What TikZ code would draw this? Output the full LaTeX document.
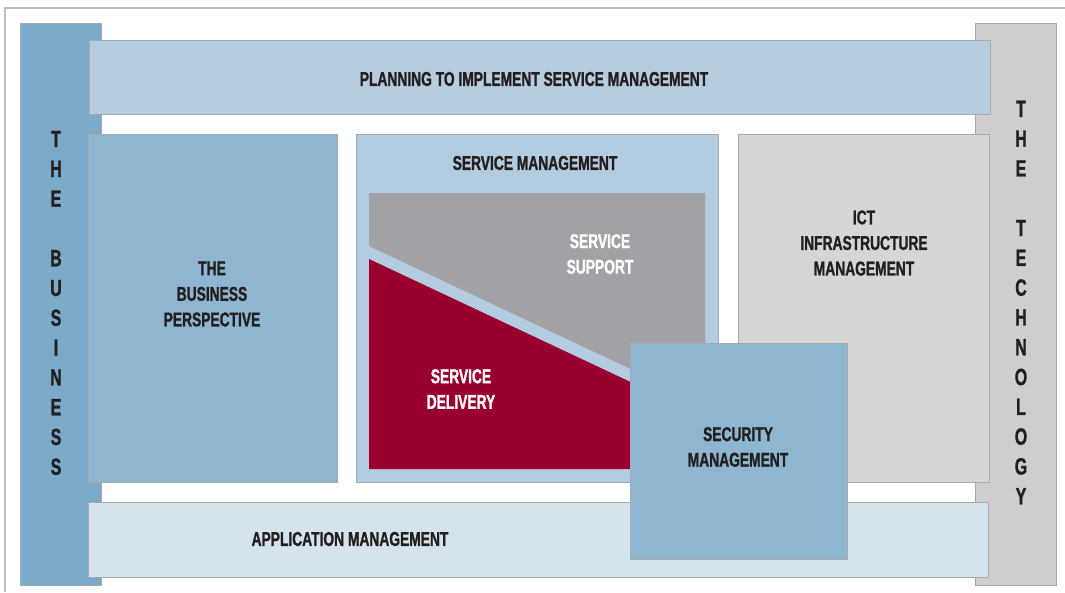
\documentclass[tikz,border=0pt]{standalone}
\usepackage{fontspec}
\newfontfamily\cfont{Liberation Sans Bold}[FakeStretch=0.69,FakeBold=1.2]
\newfontfamily\vfont{Liberation Sans Bold}[FakeStretch=0.68,FakeBold=1.2]
\definecolor{cBus}{HTML}{7BABC8}
\definecolor{cTop}{HTML}{B6CDE0}
\definecolor{cTech}{HTML}{CECED0}
\definecolor{cPersp}{HTML}{8EB6D1}
\definecolor{cSM}{HTML}{B4CCDF}
\definecolor{cGray}{HTML}{A2A1A6}
\definecolor{cRed}{HTML}{990030}
\definecolor{cICT}{HTML}{D6D6D8}
\definecolor{cApp}{HTML}{D5E3EC}
\definecolor{cEdge}{HTML}{A7A9AC}
\definecolor{cText}{HTML}{231F20}
\definecolor{cFrame}{HTML}{BEBEBE}
\begin{document}
\begin{tikzpicture}[x=1pt,y=-1pt,
  panel/.style={draw=cEdge,line width=0.8pt},
  lbl/.style={text=cText,font=\cfont\fontsize{20}{25.6}\selectfont,align=center,inner sep=0pt},
  wlbl/.style={lbl,text=white},
  vlbl/.style={text=cText,font=\vfont\fontsize{23.5}{29.8}\selectfont,align=center,inner sep=0pt}]
\useasboundingbox (0,0) rectangle (1065,592);
% outer frame
\draw[cFrame,line width=1.6pt] (5,592) -- (5,8) -- (1065,8);
% side bars
\filldraw[panel,fill=cBus] (20,23) rectangle (101,585);
\filldraw[panel,fill=cTech] (975,23) rectangle (1056,585);
% top bar
\filldraw[panel,fill=cTop] (89,40) rectangle (990,114);
% application bar
\filldraw[panel,fill=cApp] (88,502) rectangle (988,577);
% business perspective
\filldraw[panel,fill=cPersp] (88,134) rectangle (337,482);
% service management
\filldraw[panel,fill=cSM] (356,134) rectangle (718,482);
\fill[cGray] (369,193) -- (705,193) -- (705,404) -- (369,246) -- cycle;
\fill[cRed] (369,259) -- (705,417) -- (705,469) -- (369,469) -- cycle;
% ICT
\filldraw[panel,fill=cICT] (738,134) rectangle (989,482);
% security
\filldraw[panel,fill=cPersp] (630,343) rectangle (847,559);
% labels
\node[lbl] (plan) at (534,79) {PLANNING TO IMPLEMENT SERVICE MANAGEMENT};
\node[lbl] (persp) at (212,294) {THE\\BUSINESS\\PERSPECTIVE};
\node[lbl] (sm) at (535,163) {SERVICE MANAGEMENT};
\node[wlbl] (ss) at (600,254) {SERVICE\\SUPPORT};
\node[wlbl] (sd) at (461,389) {SERVICE\\DELIVERY};
\node[lbl] (ict) at (864,243) {ICT\\INFRASTRUCTURE\\MANAGEMENT};
\node[lbl] (sec) at (738,447) {SECURITY\\MANAGEMENT};
\node[lbl] (app) at (350,539) {APPLICATION MANAGEMENT};
\node[vlbl] (bus) at (56,303) {T\\H\\E\\\mbox{}\\B\\U\\S\\I\\N\\E\\S\\S};
\node[vlbl] (tech) at (1021,302.5) {T\\H\\E\\\mbox{}\\T\\E\\C\\H\\N\\O\\L\\O\\G\\Y};
\end{tikzpicture}
\end{document}
